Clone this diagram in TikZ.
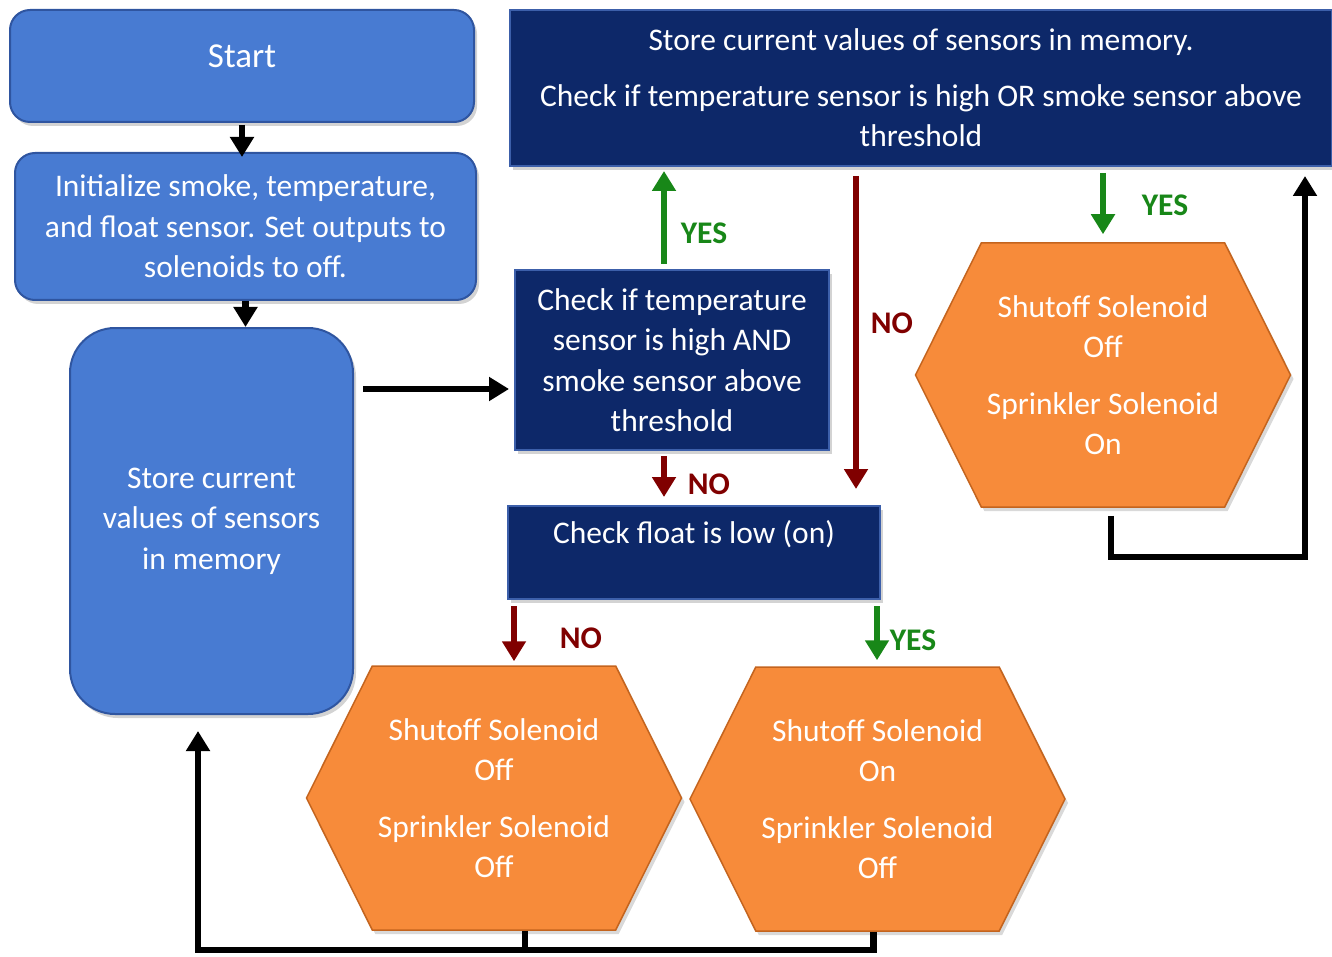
\documentclass[tikz,border=0pt]{standalone}
\usepackage{fontspec}
\setmainfont{Carlito}
\usepackage{tikz}
\usetikzlibrary{positioning, shapes, shapes.symbols, calc, arrows.meta, shadows}
\definecolor{boxblue}{RGB}{72,123,210}
\definecolor{boxblueline}{RGB}{47,85,160}
\definecolor{navy}{RGB}{13,40,105}
\definecolor{navyline}{RGB}{60,95,170}
\definecolor{pastelorange}{RGB}{247,139,58}
\definecolor{orangeline}{RGB}{196,100,30}
\definecolor{nored}{RGB}{128,0,0}
\definecolor{yesgreen}{RGB}{24,135,24}

\begin{document}
\begin{tikzpicture}[x=1pt, y=-1pt,
	every node/.style={font=\fontsize{31.5}{40.5}\selectfont, text=white, align=center, inner sep=0pt},
	lightbox/.style={draw=boxblueline, line width=2pt, fill=boxblue, rounded corners=20pt, drop shadow={shadow xshift=3pt, shadow yshift=-4pt, opacity=0.35}},
	navybox/.style={draw=navyline, line width=2pt, fill=navy, drop shadow={shadow xshift=3pt, shadow yshift=-4pt, opacity=0.35}},
	hexbox/.style={signal, signal to=west and east, signal pointer angle=127, draw=orangeline, line width=1.5pt, fill=pastelorange, minimum width=375, minimum height=264, drop shadow={shadow xshift=3pt, shadow yshift=-4pt, opacity=0.3}},
	flow/.style={line width=6.5pt, -{Triangle[length=20pt, width=23pt]}},
	backflow/.style={line width=6.5pt},
	yesflow/.style={flow, color=yesgreen},
	noflow/.style={flow, color=nored},
	yeslabel/.style={text=yesgreen, font=\fontsize{31.5}{36}\selectfont\bfseries},
	nolabel/.style={text=nored, font=\fontsize{31.5}{36}\selectfont\bfseries}]
	\useasboundingbox (0,0) rectangle (1332,957);
	
	\node[lightbox, minimum width=464, minimum height=112, text height=24pt, text depth=20pt, font=\fontsize{35}{40}\selectfont] (start) at (242,66) {Start};
	\node[lightbox, minimum width=461, minimum height=147] (init) at (245.5,226.5) {Initialize smoke, temperature,\\and float sensor. Set outputs to\\solenoids to off.};
	\node[lightbox, rounded corners=45pt, minimum width=283, minimum height=386] (storeL) at (211.5,521) {Store current\\values of sensors\\in memory};
	\node[navybox, minimum width=822, minimum height=156] (top) at (921,88) {Store current values of sensors in memory.\\[15pt]Check if temperature sensor is high OR smoke sensor above\\threshold};
	\node[navybox, minimum width=314, minimum height=180] (chkand) at (672,360) {Check if temperature\\sensor is high AND\\smoke sensor above\\threshold};
	\node[navybox, minimum width=372, minimum height=93, text height=22pt, text depth=41pt] (float) at (694,552.5) {Check float is low (on)};
	\node[hexbox] (hexA) at (494,798) {Shutoff Solenoid\\Off\\[16pt]Sprinkler Solenoid\\Off};
	\node[hexbox] (hexB) at (877.5,799) {Shutoff Solenoid\\On\\[16pt]Sprinkler Solenoid\\Off};
	\node[hexbox] (hexC) at (1103,375) {Shutoff Solenoid\\Off\\[16pt]Sprinkler Solenoid\\On};
	
	\node[yeslabel] (yesA) at (704,233) {YES};
	\node[nolabel] (noA) at (892,323) {NO};
	\node[nolabel] (noB) at (709,484) {NO};
	\node[nolabel] (noC) at (581,638) {NO};
	\node[yeslabel] (yesB) at (913,640) {YES};
	\node[yeslabel] (yesC) at (1165,205) {YES};
	
	\coordinate (inAND) at ([yshift=-29pt]chkand.west);
	\coordinate (yesAX) at ([xshift=-8pt]chkand.north);
	\coordinate (noAX) at ([xshift=-25pt]float.north east);
	\coordinate (noBX) at ([xshift=-8pt]chkand.south);
	\coordinate (noCX) at ([xshift=7pt]float.south west);
	\coordinate (yesBX) at ([xshift=-4pt]float.south east);
	\coordinate (loopR) at (1305,557);
	\coordinate (loopL) at (198,950);
	
	\draw[flow, shorten <=2pt, shorten >=-5pt] (start.south) -- (start.south |- init.north);
	\draw[flow] (init.south) -- (init.south |- storeL.north);
	\draw[flow, shorten <=9pt, shorten >=5pt] (inAND -| storeL.east) -- (inAND);
	\draw[yesflow, shorten <=5pt, shorten >=4pt] (yesAX) -- (yesAX |- top.south);
	\draw[noflow, shorten <=9pt, shorten >=16pt] (noAX |- top.south) -- (noAX);
	\draw[noflow, shorten <=5pt, shorten >=8pt] (noBX) -- (noBX |- float.north);
	\draw[noflow, shorten <=6pt, shorten >=4pt] (noCX) -- (noCX |- hexA.north);
	\draw[yesflow, shorten <=6pt, shorten >=6pt] (yesBX) -- (yesBX |- hexB.north);
	\draw[yesflow, shorten <=6pt, shorten >=8pt] (hexC.north |- top.south) -- (hexC.north);
	\draw[flow, shorten <=8pt, shorten >=9pt] ([xshift=8pt]hexC.south) |- (loopR) -- (loopR |- top.south);
	\draw[flow, shorten >=16pt] ([xshift=31pt]hexA.south) |- (loopL) -- (loopL |- storeL.south);
	\draw[backflow] ([xshift=-4pt]hexB.south) |- (loopL);
\end{tikzpicture}
\end{document}
